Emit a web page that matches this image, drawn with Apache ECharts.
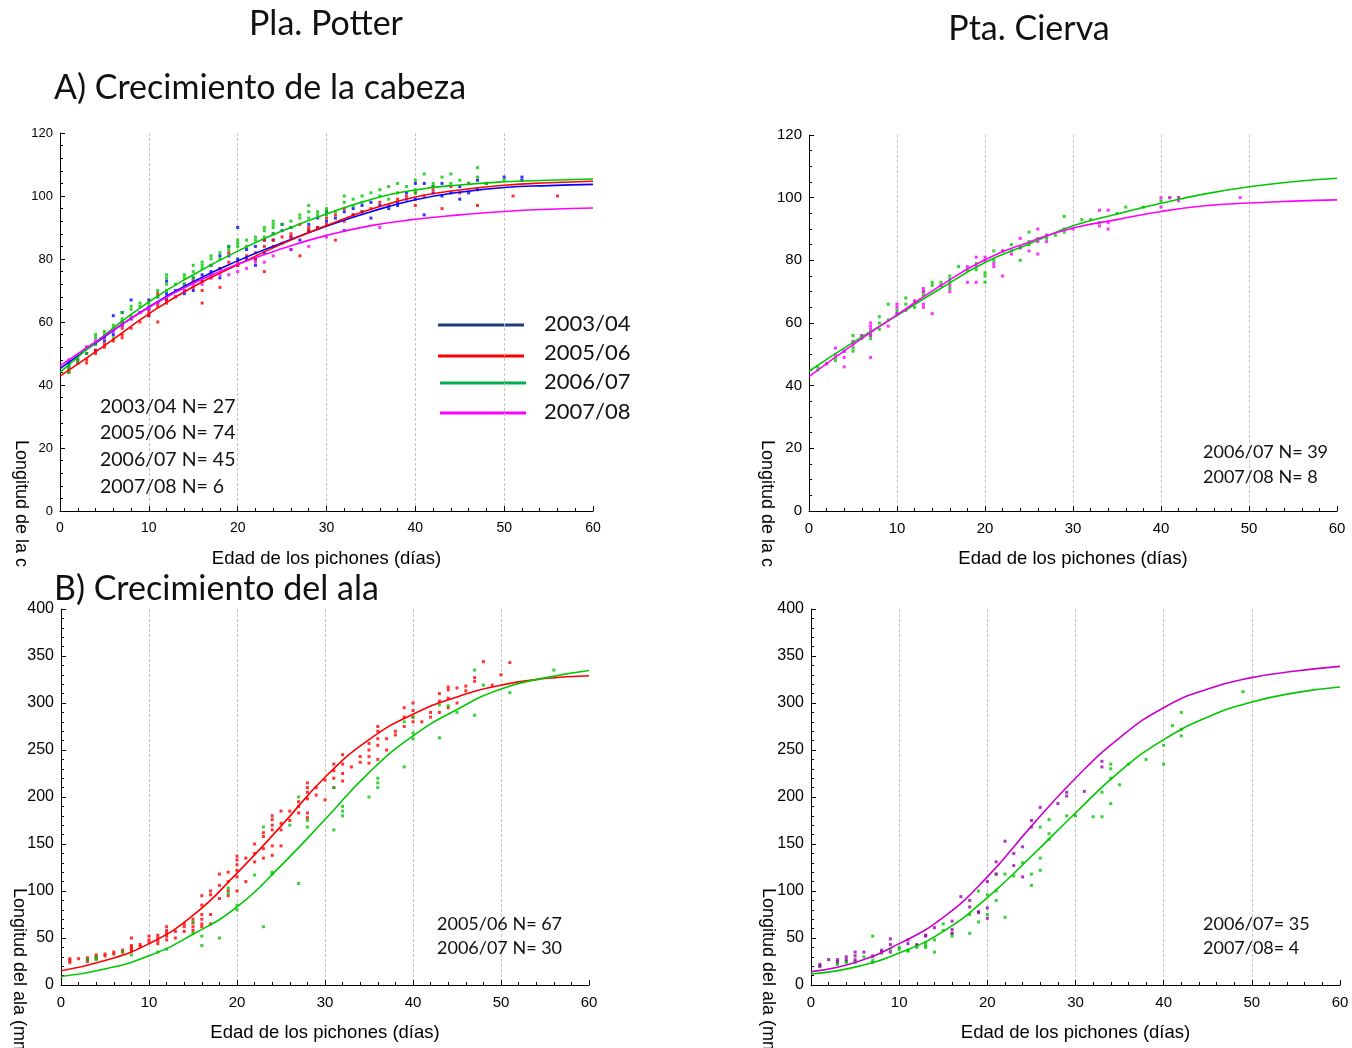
<!DOCTYPE html>
<html>
<head>
<meta charset="utf-8">
<script src="https://cdn.jsdelivr.net/npm/echarts@6/dist/echarts.min.js"></script>
<style>
html,body{margin:0;padding:0;background:#fff;}
#c{width:1352px;height:1048px;}
</style>
</head>
<body>
<div id="c"></div>
<script>
// ---------- DATA ----------
const curveDays = [0, 5, 10, 15, 20, 25, 30, 35, 40, 45, 50, 55, 60];
const xTicks = [0, 10, 20, 30, 40, 50, 60];

// A) head length, Pla. Potter (fitted curves)
const headPotter0304 = [45.2, 55.3, 64.8, 72.8, 79.4, 85.1, 90.4, 95.0, 98.8, 101.2, 102.7, 103.3, 103.7];
const headPotter0506 = [42.8, 52.5, 62.6, 71.2, 78.2, 84.8, 90.6, 95.8, 99.7, 101.9, 103.4, 104.2, 104.7];
const headPotter0607 = [44.0, 55.8, 66.4, 75.0, 82.5, 88.9, 94.3, 98.9, 101.9, 103.5, 104.5, 105.0, 105.4];
const headPotter0708 = [46.1, 55.6, 64.6, 72.3, 78.3, 83.3, 87.5, 90.6, 92.6, 94.0, 95.1, 95.8, 96.2];

// A) head length, Pta. Cierva (fitted curves)
const headCierva0607 = [44.6, 53.8, 62.4, 71.1, 79.3, 85.2, 91.0, 94.8, 98.2, 101.2, 103.5, 105.1, 106.2];
const headCierva0708 = [42.9, 53.1, 62.6, 72.0, 80.2, 85.8, 90.3, 93.0, 95.6, 97.4, 98.3, 98.9, 99.3];

// B) wing length, Pla. Potter (fitted curves)
const wingPotter0506 = [15.2, 26, 44, 74, 119, 169, 221, 261, 288, 306.5, 319, 326, 329];
const wingPotter0607 = [9, 17, 31, 54, 83, 127, 176, 226, 265, 293, 315, 326.7, 334.5];

// B) wing length, Pta. Cierva (fitted curves)
const wingCierva0708 = [14.2, 24, 44, 72, 115, 169, 220, 263, 295, 315, 327, 334, 339];
const wingCierva0607 = [11.7, 19, 34, 57, 93, 137, 183, 227, 261, 285, 301, 311, 317];

// Observations [day, mm]
const obsHeadPotter0304 = [[1,47],[1,46],[2,48],[3,52],[3,50],[4,51],[4,53],[5,54],[6,56],[6,62],[7,63],[7,60],[7,59],[8,67],[8,61],[9,63],[10,67],[10,64],[10,62],[11,66],[11,68],[12,73],[12,69],[12,67],[13,70],[14,72],[14,69],[15,74],[15,70],[16,75],[16,73],[17,78],[17,76],[18,81],[18,77],[18,74],[19,84],[19,81],[20,90],[20,80],[20,78],[21,83],[21,80],[22,84],[22,80],[22,78],[23,86],[23,82],[24,88],[24,86],[25,91],[25,89],[26,90],[26,83],[26,87],[27,86],[28,91],[28,89],[29,93],[29,90],[30,95],[30,92],[31,93],[32,95],[32,89],[33,96],[33,94],[34,97],[34,95],[35,98],[35,93],[36,97],[37,96],[38,98],[38,97],[39,101],[39,99],[40,104],[40,99],[41,94],[41,104],[42,103],[42,101],[43,104],[43,100],[44,101],[45,103],[45,99],[46,101],[47,105],[47,102],[48,104],[50,106],[52,106],[52,105]];
const obsHeadPotter0506 = [[1,45],[1,44],[2,47],[3,47],[3,48],[4,50],[4,51],[5,53],[5,52],[6,54],[7,55],[7,56],[7,58],[8,58],[9,60],[10,62],[10,63],[11,60],[11,69],[11,65],[12,66],[12,67],[13,68],[14,70],[15,71],[15,73],[16,66],[16,70],[16,73],[17,74],[17,75],[18,71],[18,77],[19,79],[19,82],[20,78],[20,79],[21,81],[22,80],[22,82],[23,76],[23,84],[23,86],[24,84],[24,86],[25,85],[25,87],[26,88],[26,87],[27,81],[27,91],[28,89],[28,90],[29,90],[30,91],[30,93],[31,86],[31,94],[32,92],[32,96],[33,94],[34,95],[35,96],[36,98],[37,97],[38,99],[39,100],[40,101],[40,97],[41,100],[42,102],[43,96],[44,103],[45,101],[46,104],[47,97],[48,104],[51,100],[56,100]];
const obsHeadPotter0607 = [[1,46],[1,45],[1,44],[2,48],[2,47],[3,50],[3,52],[4,53],[4,55],[4,56],[5,56],[5,57],[5,55],[6,58],[6,59],[6,55],[7,60],[7,61],[7,63],[8,62],[8,64],[8,65],[9,65],[9,66],[10,66],[10,65],[10,64],[11,68],[11,70],[11,66],[12,70],[12,72],[12,74],[12,75],[12,68],[13,72],[14,74],[14,75],[14,72],[15,76],[15,78],[15,74],[16,77],[16,78],[16,79],[17,80],[17,81],[17,78],[18,80],[18,82],[19,83],[19,84],[20,84],[20,85],[20,86],[21,86],[21,84],[22,87],[22,86],[23,89],[23,90],[23,87],[24,90],[24,91],[24,92],[24,88],[25,91],[26,92],[26,90],[27,93],[27,94],[28,95],[28,97],[28,93],[29,95],[29,94],[30,96],[30,95],[30,94],[31,95],[32,98],[32,100],[33,99],[33,97],[34,100],[34,98],[35,101],[36,102],[36,100],[37,103],[37,99],[38,104],[38,101],[39,103],[40,105],[40,102],[40,101],[41,107],[42,104],[42,103],[43,106],[44,107],[44,104],[45,105],[46,104],[47,109],[47,106],[48,104],[50,105]];
const obsHeadPotter0708 = [[1,48],[2,49],[3,52],[4,54],[5,55],[6,57],[7,59],[8,61],[9,63],[10,64],[11,66],[12,68],[13,68],[14,70],[15,72],[16,72],[17,74],[18,75],[19,75],[20,76],[21,77],[22,79],[23,79],[24,81],[26,83],[28,84],[30,87],[36,90]];

const obsHeadCierva0607 = [[1,46],[1,45],[2,47],[3,49],[3,48],[4,51],[5,56],[5,54],[5,52],[5,51],[6,56],[6,55],[7,57],[7,56],[7,55],[8,62],[8,60],[8,58],[9,66],[9,61],[10,64],[10,63],[11,68],[11,66],[12,67],[12,65],[13,70],[13,69],[14,73],[14,72],[15,73],[15,72],[16,75],[16,74],[16,73],[16,71],[17,78],[18,77],[19,79],[19,77],[20,76],[20,75],[20,73],[21,83],[21,80],[22,83],[23,85],[23,83],[24,84],[24,80],[25,89],[25,86],[25,85],[26,87],[27,88],[27,87],[28,88],[29,94],[29,89],[31,93],[32,93],[33,92],[35,95],[36,97],[38,97],[40,99],[41,100],[42,100]];
const obsHeadCierva0708 = [[2,47],[3,52],[3,50],[4,51],[4,49],[4,46],[5,54],[5,53],[6,56],[7,60],[7,59],[7,58],[7,56],[7,49],[9,59],[10,66],[10,65],[10,63],[11,64],[12,67],[13,71],[13,70],[13,66],[13,65],[14,63],[15,72],[16,72],[16,70],[18,78],[18,73],[19,81],[19,78],[19,73],[20,81],[20,80],[21,79],[21,78],[22,75],[22,83],[23,82],[24,87],[24,84],[25,83],[26,90],[26,86],[26,82],[27,88],[27,86],[29,90],[30,90],[33,96],[33,91],[34,96],[34,92],[34,90],[40,100],[40,97],[41,100],[42,100],[42,99],[49,100]];

const obsWingPotter0506 = [[1,28],[1,26],[1,24],[2,28],[3,29],[3,27],[3,25],[4,32],[4,30],[4,28],[5,33],[5,31],[6,35],[6,33],[7,37],[7,35],[8,50],[8,42],[8,40],[8,38],[8,36],[9,43],[9,41],[10,52],[10,48],[10,45],[11,53],[11,50],[11,47],[11,44],[12,62],[12,58],[12,55],[12,52],[12,48],[13,57],[13,50],[14,65],[14,62],[14,57],[15,70],[15,66],[15,62],[15,58],[16,95],[16,85],[16,75],[16,70],[16,65],[16,62],[17,100],[17,96],[17,75],[17,65],[18,118],[18,106],[18,92],[19,120],[19,110],[19,100],[19,95],[20,137],[20,133],[20,128],[20,122],[20,115],[20,100],[21,135],[21,110],[22,150],[22,140],[22,131],[23,162],[23,158],[23,145],[23,135],[24,180],[24,176],[24,170],[24,165],[24,148],[24,138],[25,185],[25,172],[25,165],[25,148],[26,185],[26,175],[27,195],[27,190],[27,183],[28,215],[28,210],[28,205],[28,198],[28,183],[28,178],[29,210],[29,202],[30,218],[30,197],[31,235],[31,228],[31,220],[31,210],[32,245],[32,235],[32,225],[32,217],[33,232],[34,243],[34,237],[35,257],[35,250],[35,243],[35,236],[36,275],[36,270],[36,262],[36,255],[36,240],[37,262],[37,250],[38,270],[38,266],[39,295],[39,285],[39,275],[40,300],[40,292],[40,285],[40,280],[41,280],[42,290],[42,285],[43,310],[43,302],[43,290],[44,317],[44,314],[44,305],[44,295],[45,316],[45,300],[46,318],[46,313],[47,327],[47,323],[48,344],[49,319],[50,330],[51,343]];
const obsWingPotter0607 = [[3,27],[4,30],[4,27],[7,35],[8,32],[11,35],[12,38],[15,55],[15,67],[16,42],[16,52],[18,50],[19,103],[19,97],[20,85],[20,80],[22,117],[23,62],[23,168],[24,120],[24,118],[26,170],[27,200],[27,108],[28,175],[28,168],[31,165],[31,210],[32,190],[32,185],[32,180],[35,200],[36,220],[36,215],[36,210],[39,232],[39,280],[40,285],[40,262],[40,268],[43,298],[43,263],[44,297],[45,290],[47,335],[47,287],[48,319],[51,311],[56,335]];

const obsWingCierva0607 = [[1,20],[3,23],[3,22],[4,25],[4,24],[5,25],[5,24],[6,30],[7,52],[7,30],[7,26],[7,24],[8,34],[9,38],[10,40],[10,38],[11,37],[11,36],[12,42],[12,40],[13,45],[13,42],[13,40],[14,48],[14,35],[15,65],[15,58],[16,55],[16,52],[18,75],[18,55],[19,100],[19,67],[20,96],[20,75],[21,100],[21,90],[21,118],[22,118],[22,72],[23,116],[24,130],[25,118],[25,106],[26,168],[26,135],[26,122],[27,176],[27,161],[27,155],[29,180],[30,180],[32,179],[33,205],[33,179],[34,235],[34,230],[34,220],[34,193],[35,213],[36,235],[38,240],[40,255],[40,235],[41,276],[42,290],[42,272],[42,265],[49,312]];
const obsWingCierva0708 = [[1,22],[1,20],[2,27],[3,27],[3,25],[4,30],[4,27],[5,35],[5,31],[5,27],[6,35],[7,31],[8,37],[8,35],[9,49],[9,43],[9,35],[11,48],[11,44],[12,43],[13,53],[13,52],[14,61],[16,68],[16,59],[16,55],[17,94],[18,90],[18,83],[19,78],[19,77],[20,110],[20,82],[20,71],[21,131],[21,118],[22,153],[23,140],[23,127],[24,147],[24,115],[25,175],[25,168],[26,189],[28,193],[29,205],[29,201],[31,206],[33,238],[33,232]];

// ---------- CHART ----------
const C_BLUE = '#0000ff', C_RED = '#ff0000', C_GREEN = '#00c800', C_MAG = '#ff00ff', C_PURP = '#cc00cc';
const ARIAL = '"Liberation Sans", Arial, sans-serif';
const CALI = 'Lato, "Open Sans", sans-serif';

function xAx(gi, fs) {
  return {
    gridIndex: gi, type: 'value', min: 0, max: 60, interval: 10,
    axisLine: { show: true, onZero: false, lineStyle: { color: '#000', width: 1 } },
    axisTick: { show: true, inside: true, length: 5, lineStyle: { color: '#000' } },
    minorTick: { show: true, splitNumber: 5, length: 3, lineStyle: { color: '#000' } },
    axisLabel: { fontSize: fs, color: '#000', margin: 10, fontFamily: ARIAL,
      formatter: v => xTicks.includes(v) ? String(v) : '' },
    splitLine: { show: true, showMinLine: false, showMaxLine: false, lineStyle: { color: '#c4c4c4', type: [3, 2], width: 1 } },
    name: 'Edad de los pichones (días)', nameLocation: 'middle', nameGap: 38,
    nameTextStyle: { fontSize: 18.5, color: '#000', fontFamily: ARIAL }
  };
}
function yAx(gi, max, interval, fs, minor) {
  return {
    gridIndex: gi, type: 'value', min: 0, max: max, interval: interval,
    axisLine: { show: true, onZero: false, lineStyle: { color: '#000', width: 1 } },
    axisTick: { show: true, inside: true, length: 5, lineStyle: { color: '#000' } },
    minorTick: { show: true, splitNumber: minor, length: 3, lineStyle: { color: '#000' } },
    axisLabel: { fontSize: fs, color: '#000', margin: 7, fontFamily: ARIAL },
    splitLine: { show: false }
  };
}
function curve(gi, vals, color) {
  return { type: 'line', xAxisIndex: gi, yAxisIndex: gi, data: curveDays.map((d, i) => [d, vals[i]]),
    smooth: true, showSymbol: false, symbol: 'none', silent: true, z: 4,
    lineStyle: { color: color, width: 1.6 } };
}
function pts(gi, data, color) {
  return { type: 'scatter', xAxisIndex: gi, yAxisIndex: gi, data: data, symbol: 'rect', symbolSize: 3,
    itemStyle: { color: color }, silent: true, z: 3 };
}
function yName(x, y, s, w) {
  const st = { text: s, fontSize: 18, fontFamily: ARIAL, fill: '#000', textAlign: 'left', textVerticalAlign: 'middle' };
  if (w) { st.width = w; st.overflow = 'truncate'; st.ellipsis = ''; }
  return { type: 'text', x: x, y: y, rotation: -Math.PI / 2, style: st };
}
function label(x, y, s, size, extra) {
  return { type: 'text', x: x, y: y, z: 60,
    style: Object.assign({ text: s, fontSize: size, fontFamily: CALI, fill: '#111', textAlign: 'left', textVerticalAlign: 'middle' }, extra || {}) };
}
function legLine(y, color, x1, x2) {
  return { type: 'line', shape: { x1: x1, y1: y, x2: x2, y2: y }, style: { stroke: color, lineWidth: 3 } };
}

const chart = echarts.init(document.getElementById('c'), null, { renderer: 'canvas' });
chart.setOption({
  animation: false,
  backgroundColor: '#fff',
  grid: [
    { left: 60, right: 759, top: 133, bottom: 537 },
    { left: 809, right: 15, top: 135, bottom: 537 },
    { left: 61, right: 763, top: 609, bottom: 63 },
    { left: 811, right: 12, top: 609, bottom: 63 }
  ],
  xAxis: [xAx(0, 14), xAx(1, 15), xAx(2, 15), xAx(3, 15)],
  yAxis: [yAx(0, 120, 20, 13, 5), yAx(1, 120, 20, 15, 4), yAx(2, 400, 50, 16, 5), yAx(3, 400, 50, 16, 5)],
  series: [
    pts(0, obsHeadPotter0304, C_BLUE), pts(0, obsHeadPotter0506, C_RED), pts(0, obsHeadPotter0607, C_GREEN), pts(0, obsHeadPotter0708, C_MAG),
    curve(0, headPotter0304, C_BLUE), curve(0, headPotter0506, C_RED), curve(0, headPotter0607, C_GREEN), curve(0, headPotter0708, C_MAG),
    pts(1, obsHeadCierva0607, C_GREEN), pts(1, obsHeadCierva0708, C_MAG),
    curve(1, headCierva0607, C_GREEN), curve(1, headCierva0708, C_MAG),
    pts(2, obsWingPotter0506, C_RED), pts(2, obsWingPotter0607, C_GREEN),
    curve(2, wingPotter0506, C_RED), curve(2, wingPotter0607, C_GREEN),
    pts(3, obsWingCierva0607, C_GREEN), pts(3, obsWingCierva0708, '#9a00b0'),
    curve(3, wingCierva0708, C_PURP), curve(3, wingCierva0607, C_GREEN)
  ],
  graphic: [
    yName(21, 440, 'Longitud de la cabeza (mm)', 136),
    yName(767, 440, 'Longitud de la cabeza (mm)', 136),
    yName(19, 888, 'Longitud del ala (mm)'),
    yName(768, 888, 'Longitud del ala (mm)'),
    label(326, 24, 'Pla. Potter', 34, { textAlign: 'center' }),
    label(1029, 29, 'Pta. Cierva', 34, { textAlign: 'center' }),
    label(54, 88, 'A) Crecimiento de la cabeza', 34),
    label(54, 589, 'B) Crecimiento del ala', 34),
    // legend (Pla. Potter head)
    legLine(325, '#1f3f7a', 438, 524), legLine(356, '#ff0000', 438, 524), legLine(383, '#00b050', 440, 526), legLine(413, '#ff00ff', 440, 526),
    label(544, 324, '2003/04', 22), label(544, 353, '2005/06', 22), label(544, 382, '2006/07', 22), label(544, 412, '2007/08', 22),
    // sample sizes
    label(100, 407, '2003/04 N= 27', 19.5), label(100, 433, '2005/06 N= 74', 19.5),
    label(100, 460, '2006/07 N= 45', 19.5), label(100, 487, '2007/08 N= 6', 19.5),
    label(1203, 452, '2006/07 N= 39', 18), label(1203, 477, '2007/08 N= 8', 18),
    label(437, 924, '2005/06 N= 67', 18), label(437, 948, '2006/07 N= 30', 18),
    label(1203, 924, '2006/07= 35', 18), label(1203, 948, '2007/08= 4', 18)
  ]
});
</script>
</body>
</html>
